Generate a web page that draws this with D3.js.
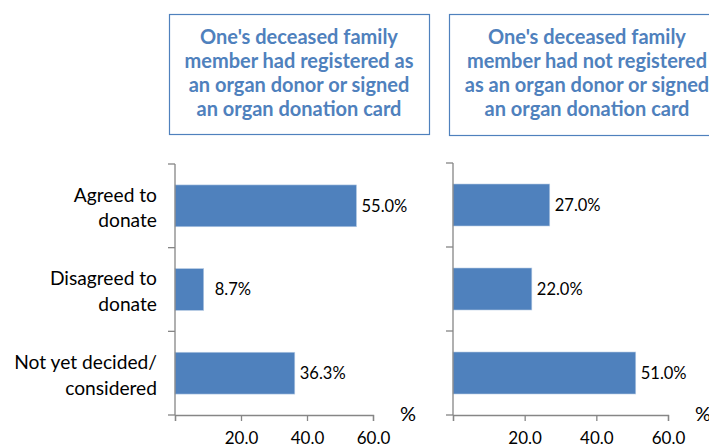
<!DOCTYPE html>
<html>
<head>
<meta charset="utf-8">
<script src="https://cdn.jsdelivr.net/npm/d3@7"></script>
<style>
  body { margin: 0; background: #fff; }
  text { font-family: Lato, "Open Sans", sans-serif; }
</style>
</head>
<body>
<svg width="709" height="446"></svg>
<script>
const categories = [["Agreed to", "donate"], ["Disagreed to", "donate"], ["Not yet decided/", "considered"]];
const registeredValues = [55.0, 8.7, 36.3];
const notRegisteredValues = [27.0, 22.0, 51.0];
const xTicks = [0, 20, 40, 60];
const panelTitles = [
    ["One's deceased family", "member had registered as", "an organ donor or signed", "an organ donation card"],
    ["One's deceased family", "member had not registered", "as an organ donor or signed", "an organ donation card"]
];

const svg = d3.select("svg");
const blue = "#4f81bd";
const axisGray = "#868686";

const panels = [
    { values: registeredValues, x0: 175, x1: 373, top: 164, bottom: 415,
      box: [169, 14, 260, 120], textX: 299, title: panelTitles[0] },
    { values: notRegisteredValues, x0: 453, x1: 668, top: 163, bottom: 415,
      box: [449, 14, 275, 121], textX: 587, title: panelTitles[1] }
];

// category labels on the left
const yLab = d3.scaleBand()
    .domain(d3.range(categories.length))
    .range([164, 415]);

const catG = svg.append("g");
categories.forEach((lines, i) => {
    const cy = yLab(i) + yLab.bandwidth() / 2 + 2;
    lines.forEach((ln, j) => {
        catG.append("text")
            .attr("x", 157)
            .attr("y", cy + (j - (lines.length - 1) / 2) * 25.5)
            .attr("dy", "0.35em")
            .attr("text-anchor", "end")
            .style("font-size", "19.2px")
            .style("fill", "#000")
            .text(ln);
    });
});

panels.forEach(p => {
    const g = svg.append("g");

    // title box
    g.append("rect")
        .attr("x", p.box[0] + 0.5).attr("y", p.box[1] + 0.5)
        .attr("width", p.box[2]).attr("height", p.box[3])
        .attr("fill", "#fff")
        .attr("stroke", blue)
        .attr("stroke-width", 1.2);

    g.selectAll("text.title")
        .data(p.title)
        .join("text")
        .attr("class", "title")
        .attr("x", p.textX)
        .attr("y", (d, i) => 37 + i * 24)
        .attr("dy", "0.35em")
        .attr("text-anchor", "middle")
        .style("font-size", "20px")
        .style("font-weight", "bold")
        .style("fill", blue)
        .text(d => d);

    const x = d3.scaleLinear().domain([0, 60]).range([p.x0, p.x1]);
    const y = d3.scaleBand()
        .domain(d3.range(p.values.length))
        .range([p.top, p.bottom])
        .paddingInner(0.5)
        .paddingOuter(0.25);

    g.selectAll("rect.bar")
        .data(p.values)
        .join("rect")
        .attr("class", "bar")
        .attr("x", x(0))
        .attr("y", (d, i) => y(i))
        .attr("width", d => x(d) - x(0))
        .attr("height", y.bandwidth())
        .attr("fill", blue)
        .attr("stroke", "#b9cde5")
        .attr("stroke-width", 0.6);

    g.selectAll("text.val")
        .data(p.values)
        .join("text")
        .attr("class", "val")
        .attr("x", d => x(d) + (d < 10 ? 11 : 5))
        .attr("y", (d, i) => y(i) + y.bandwidth() / 2)
        .attr("dy", "0.35em")
        .style("font-size", "16.5px")
        .style("fill", "#000")
        .text(d => d.toFixed(1) + "%");

    // x axis
    const xAxis = g.append("g")
        .attr("transform", `translate(0,${p.bottom})`)
        .call(d3.axisBottom(x)
            .tickValues(xTicks)
            .tickSize(6)
            .tickPadding(11)
            .tickFormat(d => d ? d.toFixed(1) : ""));
    xAxis.select(".domain").attr("stroke", axisGray).attr("stroke-width", 1.3);
    xAxis.selectAll(".tick line").attr("stroke", axisGray).attr("stroke-width", 1.3);
    xAxis.selectAll(".tick text")
        .style("font-size", "17px")
        .style("font-family", "Lato, sans-serif")
        .attr("fill", "#000");

    // y axis with ticks at category boundaries
    const bounds = d3.range(p.values.length + 1).map(i => p.top + i * (p.bottom - p.top) / p.values.length);
    g.append("line")
        .attr("x1", x(0)).attr("x2", x(0))
        .attr("y1", p.top).attr("y2", p.bottom)
        .attr("stroke", axisGray).attr("stroke-width", 1.3);
    g.selectAll("line.ytick")
        .data(bounds)
        .join("line")
        .attr("class", "ytick")
        .attr("x1", x(0) - 7).attr("x2", x(0))
        .attr("y1", d => d).attr("y2", d => d)
        .attr("stroke", axisGray).attr("stroke-width", 1.3);

    g.append("text")
        .attr("x", x(60) + 27)
        .attr("y", p.bottom - 1)
        .attr("dy", "0.35em")
        .style("font-size", "20px")
        .style("fill", "#000")
        .text("%");
});
</script>
</body>
</html>
